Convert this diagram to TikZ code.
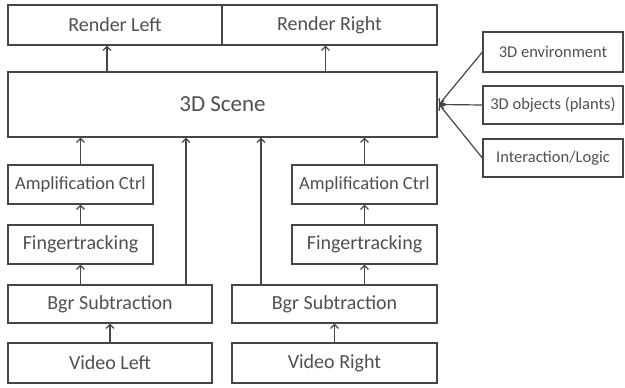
\documentclass[tikz,border=0pt]{standalone}
\usepackage{fontspec}
\setmainfont{Carlito}
\usetikzlibrary{arrows.meta}
\definecolor{ln}{RGB}{70,70,70}
\definecolor{tx}{RGB}{80,80,80}
\begin{document}
\begin{tikzpicture}[x=1pt,y=-1pt,
  box/.style={draw=ln,line width=1.2pt,rectangle,inner sep=0pt,text=tx,font=\fontsize{20}{24}\selectfont},
  arr/.style={draw=ln,line width=1.2pt,-{Straight Barb[length=4pt,width=8pt,line width=1.2pt]}}]
\useasboundingbox (0,0) rectangle (625,388);
\node[box,minimum width=214,minimum height=40] (rl) at (115,25) {Render Left};
\node[box,minimum width=215,minimum height=40] (rr) at (329.5,25) {Render Right};
\node[box,minimum width=429,minimum height=65,font=\fontsize{23}{27}\selectfont] (scene) at (222.5,104.5) {3D Scene};
\node[box,minimum width=145,minimum height=39,font=\fontsize{18.5}{22}\selectfont] (ampL) at (80.5,184.5) {Amplification Ctrl};
\node[box,minimum width=145,minimum height=39] (fingL) at (80.5,244.5) {Fingertracking};
\node[box,minimum width=204,minimum height=38] (bgrL) at (110,304) {Bgr Subtraction};
\node[box,minimum width=204,minimum height=40] (vidL) at (110,363) {Video Left};
\node[box,minimum width=145,minimum height=39,font=\fontsize{18.5}{22}\selectfont] (ampR) at (364.5,184.5) {Amplification Ctrl};
\node[box,minimum width=145,minimum height=39] (fingR) at (364.5,244.5) {Fingertracking};
\node[box,minimum width=205,minimum height=38] (bgrR) at (334.5,304) {Bgr Subtraction};
\node[box,minimum width=205,minimum height=40] (vidR) at (334.5,363) {Video Right};
\node[box,minimum width=140,minimum height=40,font=\fontsize{16.5}{20}\selectfont] (env) at (553,52) {3D environment};
\node[box,minimum width=140,minimum height=38,font=\fontsize{16.5}{20}\selectfont] (obj) at (553,105) {3D objects (plants)};
\node[box,minimum width=140,minimum height=38,font=\fontsize{16.5}{20}\selectfont] (inter) at (553,158) {Interaction/Logic};
\coordinate (tgt) at ([xshift=1.5]scene.east);
% up arrows
\draw[arr] ([xshift=-8]rl.south |- scene.north) -- ([xshift=-8]rl.south);
\draw[arr] ([xshift=-4]rr.south |- scene.north) -- ([xshift=-4]rr.south);
\draw[arr] (ampL.north) -- (ampL.north |- scene.south);
\draw[arr] ([xshift=76]bgrL.north) -- ([xshift=76]bgrL.north |- scene.south);
\draw[arr] ([xshift=-73.5]bgrR.north) -- ([xshift=-73.5]bgrR.north |- scene.south);
\draw[arr] (ampR.north) -- (ampR.north |- scene.south);
\draw[arr] (fingL.north) -- (ampL.south);
\draw[arr] (fingR.north) -- (ampR.south);
\draw[arr] (fingL.south |- bgrL.north) -- (fingL.south);
\draw[arr] (fingR.south |- bgrR.north) -- (fingR.south);
\draw[arr] (vidL.north) -- (bgrL.south);
\draw[arr] (vidR.north) -- (bgrR.south);
\draw[arr] (env.west) -- (tgt);
\draw[arr] (obj.west) -- (tgt);
\draw[arr] (inter.west) -- (tgt);
\end{tikzpicture}
\end{document}
